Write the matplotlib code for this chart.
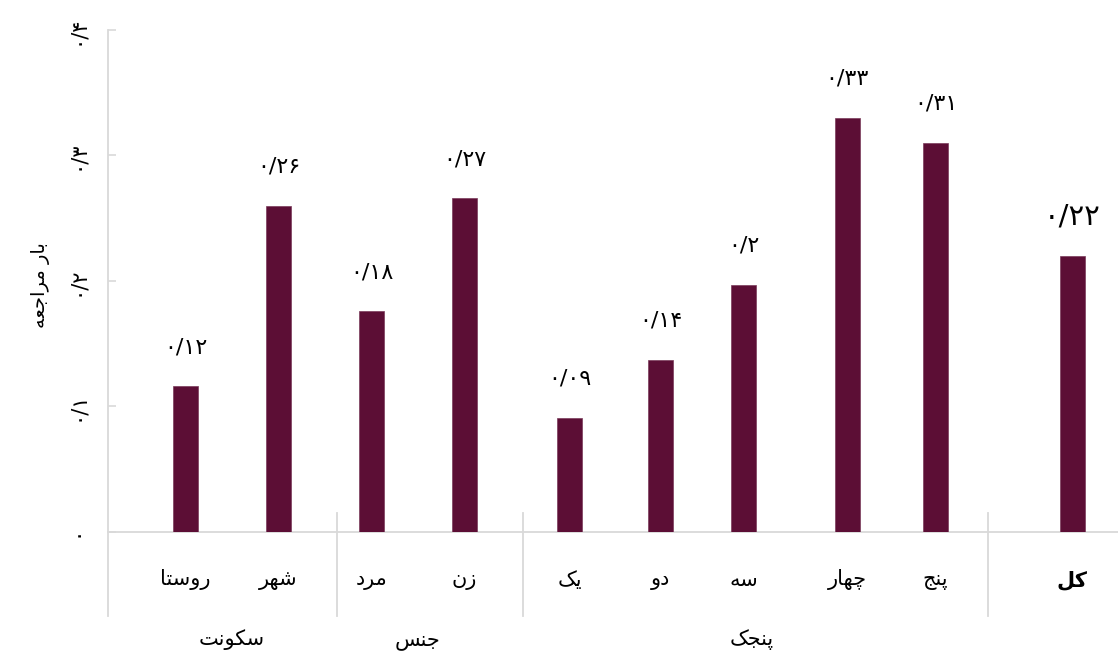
import matplotlib
matplotlib.use("Agg")
import matplotlib.pyplot as plt
from matplotlib.transforms import blended_transform_factory

plt.rcParams['font.family'] = ['DejaVu Sans']

# ---------------- data ----------------
categories = ["روستا", "شهر", "مرد", "زن", "یک", "دو", "سه", "چهار", "پنج", "کل"]
values = [0.116, 0.26, 0.176, 0.266, 0.091, 0.137, 0.197, 0.33, 0.31, 0.22]
value_labels = ["۰/۱۲", "۰/۲۶", "۰/۱۸", "۰/۲۷", "۰/۰۹", "۰/۱۴", "۰/۲", "۰/۳۳", "۰/۳۱", "۰/۲۲"]
groups = ["سکونت", "جنس", "پنجک", ""]
group_members = [[0, 1], [2, 3], [4, 5, 6, 7, 8], [9]]
y_ticks = [0, 0.1, 0.2, 0.3, 0.4]
y_tick_labels = ["۰", "۰/۱", "۰/۲", "۰/۳", "۰/۴"]
y_title = "بار مراجعه"

# ---------------- layout (horizontal slots, axis units) ----------------
slot_x = [185.5, 278.5, 371.5, 464.5, 569.5, 660.4, 743.4, 847.3, 935.5, 1072.3]
separators_x = [337, 523, 988.3]
x_range = (107.7, 1118)
bar_w = 24.5

BAR = "#5C0E35"
GRID = "#D9D9D9"

# ---------------- Persian shaping (matplotlib has no bidi/shaping) ----------------
FORMS = {
    'ا': ('\uFE8D', '\uFE8E'),
    'ب': ('\uFE8F', '\uFE90', '\uFE91', '\uFE92'),
    'پ': ('\uFB56', '\uFB57', '\uFB58', '\uFB59'),
    'ت': ('\uFE95', '\uFE96', '\uFE97', '\uFE98'),
    'ج': ('\uFE9D', '\uFE9E', '\uFE9F', '\uFEA0'),
    'چ': ('\uFB7A', '\uFB7B', '\uFB7C', '\uFB7D'),
    'د': ('\uFEA9', '\uFEAA'),
    'ر': ('\uFEAD', '\uFEAE'),
    'ز': ('\uFEAF', '\uFEB0'),
    'س': ('\uFEB1', '\uFEB2', '\uFEB3', '\uFEB4'),
    'ش': ('\uFEB5', '\uFEB6', '\uFEB7', '\uFEB8'),
    'ع': ('\uFEC9', '\uFECA', '\uFECB', '\uFECC'),
    'ک': ('\uFB8E', '\uFB8F', '\uFB90', '\uFB91'),
    'ل': ('\uFEDD', '\uFEDE', '\uFEDF', '\uFEE0'),
    'م': ('\uFEE1', '\uFEE2', '\uFEE3', '\uFEE4'),
    'ن': ('\uFEE5', '\uFEE6', '\uFEE7', '\uFEE8'),
    'ه': ('\uFEE9', '\uFEEA', '\uFEEB', '\uFEEC'),
    'و': ('\uFEED', '\uFEEE'),
    'ی': ('\uFBFC', '\uFBFD', '\uFBFE', '\uFBFF'),
}


def shape(text):
    out = []
    n = len(text)
    for i, ch in enumerate(text):
        f = FORMS.get(ch)
        if f is None:
            out.append(ch)
            continue
        prev = text[i - 1] if i > 0 else None
        nxt = text[i + 1] if i < n - 1 else None
        cp = prev is not None and prev in FORMS and len(FORMS[prev]) == 4
        cn = len(f) == 4 and nxt is not None and nxt in FORMS
        if cp and cn:
            out.append(f[3])
        elif cp:
            out.append(f[1])
        elif cn:
            out.append(f[2])
        else:
            out.append(f[0])
    return "".join(reversed(out))


# ---------------- figure ----------------
fig = plt.figure(figsize=(11.18, 6.57), dpi=100)
ax = fig.add_axes([107.7 / 1118, (657 - 531.7) / 657, 1 - 107.7 / 1118, (531.7 - 30) / 657])

ax.bar(slot_x, values, width=bar_w, color=BAR, edgecolor="#7A3A5A", linewidth=0.5, zorder=3)

ax.set_xlim(*x_range)
ax.set_ylim(0, 0.4)

for s in ["top", "right"]:
    ax.spines[s].set_visible(False)
for s in ["left", "bottom"]:
    ax.spines[s].set_color(GRID)
    ax.spines[s].set_linewidth(1.3)

ax.set_xticks([])
ax.set_yticks(y_ticks)
ax.set_yticklabels(y_tick_labels, rotation=90, fontsize=15, va="center")
ax.tick_params(axis="y", direction="in", length=6, color=GRID, width=1.2, pad=15)

# value labels
for i, (x, v, lab) in enumerate(zip(slot_x, values, value_labels)):
    big = categories[i] == "کل"
    ax.annotate(lab, (x, v), xytext=(0, 28), textcoords="offset points",
                ha="center", va="center", fontsize=21 if big else 16)

# category axis structure
trans = blended_transform_factory(ax.transData, ax.transAxes)
sep_top = (531.7 - 513) / 501.7
sep_bot = (531.7 - 616) / 501.7
for sx in separators_x:
    ax.plot([sx, sx], [sep_top, sep_bot], transform=trans, color=GRID, lw=1.3, clip_on=False)
ax.plot([x_range[0], x_range[0]], [0, sep_bot], transform=trans, color=GRID, lw=1.3, clip_on=False)

cat_y = (531.7 - 580) / 501.7
grp_y = (531.7 - 640) / 501.7
for i, (x, c) in enumerate(zip(slot_x, categories)):
    ax.text(x, cat_y, shape(c), transform=trans, ha="center", va="center", fontsize=15,
            fontweight="bold" if c == "کل" else "normal")

for g, members in zip(groups, group_members):
    if not g:
        continue
    gx = sum(slot_x[m] for m in members) / len(members)
    ax.text(gx, grp_y, shape(g), transform=trans, ha="center", va="center", fontsize=15)

fig.text(40 / 1118, (657 - 285) / 657, shape(y_title), rotation=90, ha="center", va="center", fontsize=14)

fig.savefig("out.png", dpi=100)
